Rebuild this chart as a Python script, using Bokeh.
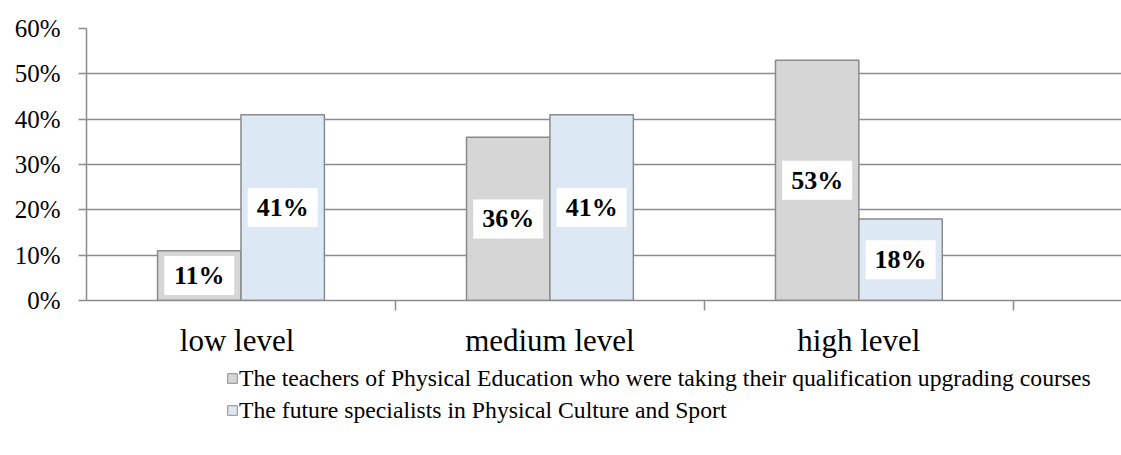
from bokeh.plotting import figure
from bokeh.layouts import column
from bokeh.models import Range1d, FixedTicker, Legend, LegendItem, ColumnDataSource
from bokeh.core.properties import value
from bokeh.embed import file_html
from bokeh.resources import INLINE

categories = ["low  level", "medium level", "high level"]
teachers = [11, 36, 53]
future = [41, 41, 18]
series_names = [
    "The teachers of Physical Education who were taking their qualification upgrading courses",
    "The future specialists in Physical Culture and Sport",
]
y_ticks = [0, 10, 20, 30, 40, 50, 60]
y_tick_labels = ["0%", "10%", "20%", "30%", "40%", "50%", "60%"]

FONT = "Liberation Serif"
GRID = "#8c8c8c"
EDGE = "#8a8a8a"
GREY_FILL = "#d6d6d6"
BLUE_FILL = "#dde8f5"

idx = list(range(len(categories)))
centers = [i + 0.5 for i in idx]
bw = 0.27

src_t = ColumnDataSource(dict(
    x=[c - bw / 2 for c in centers], top=teachers,
    ymid=[v / 2 for v in teachers], lab=[f"{v}%" for v in teachers]))
src_f = ColumnDataSource(dict(
    x=[c + bw / 2 for c in centers], top=future,
    ymid=[v / 2 for v in future], lab=[f"{v}%" for v in future]))

W = 1121
H_MAIN = 362
H_LEG = 455 - H_MAIN

p = figure(width=W, height=H_MAIN, output_backend="svg", toolbar_location=None,
           x_range=Range1d(0, 3.35), y_range=Range1d(0, 60),
           min_border_left=86, min_border_top=28, min_border_right=0,
           min_border_bottom=62)
p.outline_line_color = None
p.background_fill_color = "white"
p.border_fill_color = "white"

# grid
p.xgrid.visible = False
p.ygrid.ticker = FixedTicker(ticks=y_ticks)
p.ygrid.grid_line_color = GRID
p.ygrid.grid_line_width = 1.5

# y axis
p.yaxis.ticker = FixedTicker(ticks=y_ticks)
p.yaxis.major_label_overrides = {t: l for t, l in zip(y_ticks, y_tick_labels)}
p.yaxis.major_label_text_font = FONT
p.yaxis.major_label_text_font_size = "25px"
p.yaxis.major_label_text_color = "black"
p.yaxis.axis_line_color = GRID
p.yaxis.axis_line_width = 1.5
p.yaxis.major_tick_line_color = GRID
p.yaxis.major_tick_line_width = 1.5
p.yaxis.major_tick_out = 8
p.yaxis.major_tick_in = 0
p.yaxis.minor_tick_line_color = None
p.yaxis.major_label_standoff = 18

# x axis: labels at category centres, tick marks at category boundaries
p.xaxis.ticker = FixedTicker(ticks=centers, minor_ticks=[float(i) for i in range(1, len(categories) + 1)])
p.xaxis.major_label_overrides = {c: n for c, n in zip(centers, categories)}
p.xaxis.major_label_text_font = FONT
p.xaxis.major_label_text_font_size = "31px"
p.xaxis.major_label_text_color = "black"
p.xaxis.axis_line_color = GRID
p.xaxis.axis_line_width = 1.5
p.xaxis.major_tick_line_color = None
p.xaxis.major_tick_out = 0
p.xaxis.major_tick_in = 0
p.xaxis.minor_tick_line_color = GRID
p.xaxis.minor_tick_line_width = 1.5
p.xaxis.minor_tick_out = 10
p.xaxis.minor_tick_in = 0
p.xaxis.major_label_standoff = 12

r1 = p.vbar(x="x", top="top", width=bw, bottom=0, source=src_t,
            fill_color=GREY_FILL, line_color=EDGE, line_width=1.5)
r2 = p.vbar(x="x", top="top", width=bw, bottom=0, source=src_f,
            fill_color=BLUE_FILL, line_color=EDGE, line_width=1.5)

for src in (src_t, src_f):
    p.rect(x="x", y="ymid", width=70, height=39, width_units="screen", height_units="screen",
           source=src, fill_color="white", line_color=None)
    p.text(x="x", y="ymid", text="lab", source=src, text_align="center", text_baseline="middle",
           text_font=value(FONT), text_font_style="bold", text_font_size="26px", text_color="black")

# legend figure (below the chart); its series renderers sit outside its visible range
pl = figure(width=W, height=H_LEG, output_backend="svg", toolbar_location=None,
            x_range=Range1d(100, 101), y_range=Range1d(100, 101),
            x_axis_location=None, y_axis_location=None,
            min_border=0, min_border_left=0, min_border_right=0,
            min_border_top=0, min_border_bottom=0)
pl.outline_line_color = None
pl.xgrid.visible = False
pl.ygrid.visible = False
l1 = pl.vbar(x="x", top="top", width=bw, bottom=0, source=src_t,
             fill_color=GREY_FILL, line_color=EDGE, line_width=1)
l2 = pl.vbar(x="x", top="top", width=bw, bottom=0, source=src_f,
             fill_color=BLUE_FILL, line_color=EDGE, line_width=1)

legend = Legend(items=[LegendItem(label=series_names[0], renderers=[l1], index=0),
                       LegendItem(label=series_names[1], renderers=[l2], index=0)],
                location=(140, H_LEG - 62), orientation="vertical")
legend.border_line_color = None
legend.background_fill_alpha = 0
legend.label_text_font = FONT
legend.label_text_font_size = "23.7px"
legend.label_text_color = "black"
legend.label_height = 28
legend.glyph_height = 12
legend.glyph_width = 12
legend.spacing = 4
legend.padding = 0
legend.margin = 0
legend.label_standoff = 1
pl.add_layout(legend, "center")

open("out.html", "w").write(file_html(column(p, pl, spacing=0), INLINE))
